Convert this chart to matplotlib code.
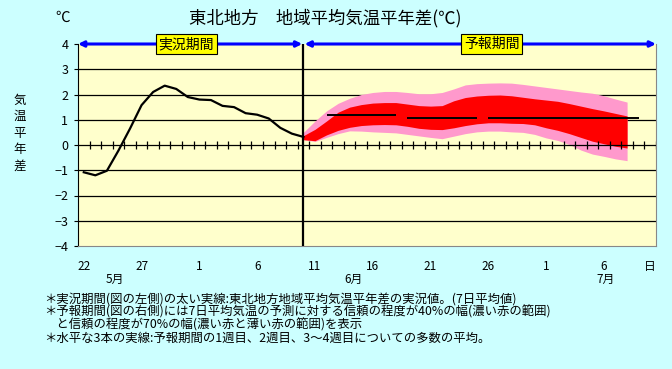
import matplotlib
matplotlib.use('Agg')
import matplotlib.pyplot as plt
import numpy as np

plt.rcParams['font.family'] = ['Noto Sans CJK JP', 'DejaVu Sans']

# 日付 (5月22日から7月10日まで, 1日ごと)
day_labels = ['22', '27', '1', '6', '11', '16', '21', '26', '1', '6', '日']
day_pos = [0, 5, 10, 15, 20, 25, 30, 35, 40, 45, 49]
month_labels = ['5月', '6月', '7月']
month_pos = [2.7, 23.3, 45.1]
n_days = 50

# 実況値 (7日平均, 5/22 - 6/10)
obs = [-1.08, -1.20, -1.02, -0.22, 0.65, 1.58, 2.10, 2.35, 2.22, 1.90,
       1.80, 1.78, 1.55, 1.50, 1.26, 1.20, 1.05, 0.68, 0.45, 0.32]

# 予報期間 (6/10 - 7/7): 70% 幅と 40% 幅
fc_start = 19
pink_hi = [0.50, 0.95, 1.35, 1.65, 1.85, 2.00, 2.08, 2.12, 2.12, 2.08,
           2.03, 2.03, 2.08, 2.22, 2.38, 2.43, 2.45, 2.46, 2.45, 2.40,
           2.34, 2.28, 2.22, 2.16, 2.10, 2.05, 1.95, 1.82, 1.70]
red_hi = [0.37, 0.62, 0.95, 1.30, 1.50, 1.60, 1.66, 1.68, 1.68, 1.62,
          1.56, 1.54, 1.56, 1.75, 1.88, 1.94, 1.97, 1.98, 1.95, 1.89,
          1.83, 1.78, 1.73, 1.64, 1.54, 1.44, 1.35, 1.25, 1.15]
red_lo = [0.21, 0.17, 0.40, 0.58, 0.70, 0.77, 0.80, 0.81, 0.80, 0.74,
          0.66, 0.62, 0.61, 0.68, 0.77, 0.84, 0.88, 0.88, 0.86, 0.85,
          0.80, 0.68, 0.58, 0.45, 0.30, 0.15, 0.05, -0.05, -0.12]
pink_lo = [0.21, 0.14, 0.30, 0.45, 0.56, 0.55, 0.52, 0.50, 0.48, 0.42,
           0.36, 0.30, 0.25, 0.35, 0.45, 0.52, 0.55, 0.55, 0.52, 0.50,
           0.42, 0.28, 0.18, 0.02, -0.20, -0.36, -0.45, -0.55, -0.62]

# 1週目, 2週目, 3~4週目の平均
week_start = [21, 28, 35]
week_end = [27, 34, 48]
week_mean = [1.17, 1.05, 1.05]

bg = '#CCFFFF'
fig = plt.figure(figsize=(6.72, 3.69), dpi=100, facecolor=bg)
ax = fig.add_axes([78 / 672, 1 - 246 / 369, 578 / 672, 202 / 369])
ax.set_facecolor('#FFFFCC')

x_obs = np.arange(len(obs))
x_fc = np.arange(fc_start, fc_start + len(pink_hi))

ax.fill_between(x_fc, pink_lo, pink_hi, color='#FF99CC', lw=0, zorder=2)
ax.fill_between(x_fc, red_lo, red_hi, color='#FF0000', lw=0, zorder=3)

for y in [-3, -2, -1, 1, 2, 3]:
    ax.axhline(y, color='black', lw=0.9, zorder=1)
ax.axhline(0, color='black', lw=0.9, zorder=4)
ax.vlines(np.arange(n_days) + 0.5, -0.16, 0.16, color='black', lw=0.9, zorder=4)

ax.plot(x_obs, obs, color='black', lw=1.6, zorder=5)
for s, e, m in zip(week_start, week_end, week_mean):
    ax.plot([s, e], [m, m], color='black', lw=1.4, zorder=5, solid_capstyle='butt')

ax.axvline(fc_start, color='black', lw=1.6, zorder=6)

ax.set_xlim(-0.5, n_days - 0.5)
ax.set_ylim(-4, 4)
ax.set_yticks(range(-4, 5))
ax.set_yticklabels([str(v).replace('-', '−') for v in range(-4, 5)], fontsize=9)
ax.tick_params(axis='y', length=3, width=0.8, pad=4)
ax.set_xticks([])
ax.spines['left'].set_color('black')
ax.spines['bottom'].set_color('#888888')
ax.spines['right'].set_color('#888888')
ax.spines['top'].set_visible(False)

# 期間の矢印
arr = dict(arrowstyle='<|-|>', color='#0000FF', lw=2.2, mutation_scale=8,
           shrinkA=0, shrinkB=0)
ax.annotate('', xy=(-0.5, 4), xytext=(fc_start - 0.1, 4), arrowprops=arr,
            annotation_clip=False, zorder=7)
ax.annotate('', xy=(fc_start + 0.1, 4), xytext=(n_days - 0.5, 4), arrowprops=arr,
            annotation_clip=False, zorder=7)
box = dict(boxstyle='square,pad=0.2', fc='#FFFF00', ec='black', lw=0.8)
ax.text(8.85, 4, '実況期間', ha='center', va='center', fontsize=10, bbox=box, zorder=8)
ax.text(35.3, 4, '予報期間', ha='center', va='center', fontsize=10, bbox=box, zorder=8)

trans = ax.get_xaxis_transform()
for p, lab in zip(day_pos, day_labels):
    ax.text(p, -0.1, lab, transform=trans, ha='center', va='center', fontsize=8.5)
for p, lab in zip(month_pos, month_labels):
    ax.text(p, -0.168, lab, transform=trans, ha='center', va='center', fontsize=8.5)

fig.text(63 / 672, 1 - 18 / 369, '℃', ha='center', va='center', fontsize=10.5)
fig.text(325 / 672, 1 - 18 / 369, '東北地方　地域平均気温平年差(℃)',
         ha='center', va='center', fontsize=12.5)
fig.text(20 / 672, 1 - 133 / 369, '気\n温\n平\n年\n差', ha='center', va='center',
         fontsize=9, linespacing=1.35)

notes = ['＊実況期間(図の左側)の太い実線:東北地方地域平均気温平年差の実況値。(7日平均値)',
         '＊予報期間(図の右側)には7日平均気温の予測に対する信頼の程度が40%の幅(濃い赤の範囲)',
         '　と信頼の程度が70%の幅(濃い赤と薄い赤の範囲)を表示',
         '＊水平な3本の実線:予報期間の1週目、2週目、3〜4週目についての多数の平均。']
for i, t in enumerate(notes):
    fig.text(44 / 672, 1 - (299 + 13 * i) / 369, t, ha='left', va='center', fontsize=8.9)

fig.savefig('out.png', dpi=100, facecolor=bg)
